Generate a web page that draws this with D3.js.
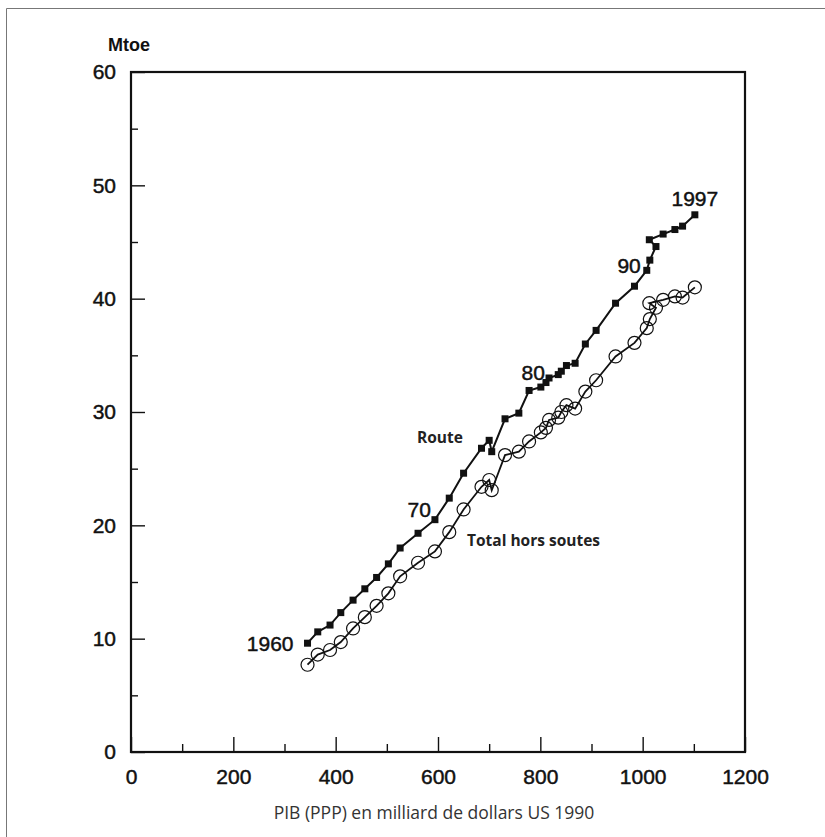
<!DOCTYPE html>
<html>
<head>
<meta charset="utf-8">
<script src="https://cdn.jsdelivr.net/npm/d3@7"></script>
<style>
  body { margin: 0; background: #fff; }
  svg { display: block; }
  .tick text, .yr { font-family: "Liberation Sans", Arial, sans-serif; fill: #111; stroke: #111; stroke-width: 0.45px; }
</style>
</head>
<body>
<script>
// GDP (PPP, bn 1990 USD), one value per year 1960..1997
var gdp = [345, 365, 389, 410, 434, 457, 480, 503, 526, 561, 594,
           622, 650, 685, 700, 705, 731, 758, 778, 801, 811, 817,
           835, 841, 851, 868, 888, 909, 947, 984, 1008,
           1014, 1026, 1013, 1040, 1063, 1078, 1102];

// Mtoe, road transport
var route = [9.6, 10.6, 11.2, 12.3, 13.4, 14.4, 15.4, 16.6, 18.0, 19.3, 20.5,
             22.4, 24.6, 26.8, 27.5, 26.5, 29.4, 29.9, 31.9, 32.2, 32.6, 33.0,
             33.3, 33.6, 34.1, 34.3, 36.0, 37.2, 39.6, 41.1, 42.5,
             43.4, 44.6, 45.2, 45.7, 46.1, 46.4, 47.4];

// Mtoe, total excluding bunkers
var total = [7.7, 8.6, 9.0, 9.7, 10.9, 11.9, 12.9, 14.0, 15.5, 16.7, 17.7,
             19.4, 21.4, 23.4, 24.0, 23.1, 26.2, 26.5, 27.4, 28.2, 28.6, 29.3,
             29.5, 30.0, 30.6, 30.3, 31.8, 32.8, 34.9, 36.1, 37.4,
             38.2, 39.2, 39.6, 39.9, 40.2, 40.1, 41.0];

var xTicks = [0, 200, 400, 600, 800, 1000, 1200];
var xMinor = [100, 300, 500, 700, 900, 1100];
var yTicks = [0, 10, 20, 30, 40, 50, 60];
var yMinor = [5, 15, 25, 35, 45, 55];

// year labels: index into the series and its text
var yearLabels = [
  {i: 0, text: "1960"},
  {i: 10, text: "70"},
  {i: 20, text: "80"},
  {i: 30, text: "90"},
  {i: 37, text: "1997"}
];

var W = 825, H = 837;
var margin = {top: 72, left: 131, right: 80, bottom: 85};
var width = W - margin.left - margin.right,
    height = H - margin.top - margin.bottom;

var svg = d3.select("body").append("svg")
    .attr("width", W)
    .attr("height", H);

// outer frame (left + top)
svg.append("path")
    .attr("d", "M6.5," + H + "V8.5H" + W)
    .attr("fill", "none")
    .attr("stroke", "#777")
    .attr("stroke-width", 1);

var g = svg.append("g")
    .attr("transform", "translate(" + margin.left + "," + margin.top + ")");

var x = d3.scaleLinear().domain([0, 1200]).range([0, width]);
var y = d3.scaleLinear().domain([0, 60]).range([height, 0]);

// x axis - ticks pointing inward
var xAx = g.append("g")
    .attr("transform", "translate(0," + height + ")")
    .call(d3.axisBottom(x).tickValues(xTicks).tickSize(-15).tickPadding(17).tickFormat(d3.format("d")));
xAx.select(".domain").remove();
xAx.selectAll("line").attr("stroke", "#111").attr("stroke-width", 1.4);
xAx.selectAll("text").attr("font-size", 21);

var xAxMin = g.append("g")
    .attr("transform", "translate(0," + height + ")")
    .call(d3.axisBottom(x).tickValues(xMinor).tickSize(-8).tickFormat(""));
xAxMin.select(".domain").remove();
xAxMin.selectAll("line").attr("stroke", "#111").attr("stroke-width", 1.4);

// y axis
var yAx = g.append("g")
    .call(d3.axisLeft(y).tickValues(yTicks).tickSize(-14).tickPadding(15).tickFormat(d3.format("d")));
yAx.select(".domain").remove();
yAx.selectAll("line").attr("stroke", "#111").attr("stroke-width", 1.4);
yAx.selectAll("text").attr("font-size", 21);

var yAxMin = g.append("g")
    .call(d3.axisLeft(y).tickValues(yMinor).tickSize(-7).tickFormat(""));
yAxMin.select(".domain").remove();
yAxMin.selectAll("line").attr("stroke", "#111").attr("stroke-width", 1.4);

// plot frame
g.append("rect")
    .attr("width", width)
    .attr("height", height)
    .attr("fill", "none")
    .attr("stroke", "#111")
    .attr("stroke-width", 2.2);

var line = d3.line()
    .x(function (d, i) { return x(gdp[i]); })
    .y(function (d) { return y(d); });

// Total hors soutes
g.append("path")
    .datum(total)
    .attr("d", line)
    .attr("fill", "none")
    .attr("stroke", "#111")
    .attr("stroke-width", 1.8);

g.selectAll(".circ")
    .data(total)
    .enter().append("circle")
    .attr("class", "circ")
    .attr("cx", function (d, i) { return x(gdp[i]); })
    .attr("cy", function (d) { return y(d); })
    .attr("r", 6.5)
    .attr("fill", "none")
    .attr("stroke", "#111")
    .attr("stroke-width", 1.2);

// Route
g.append("path")
    .datum(route)
    .attr("d", line)
    .attr("fill", "none")
    .attr("stroke", "#111")
    .attr("stroke-width", 2);

g.selectAll(".sq")
    .data(route)
    .enter().append("rect")
    .attr("class", "sq")
    .attr("x", function (d, i) { return x(gdp[i]) - 3.5; })
    .attr("y", function (d) { return y(d) - 3.5; })
    .attr("width", 7)
    .attr("height", 7)
    .attr("fill", "#111");

// year labels next to Route points
var offs = {"1960": [-14, 8, "end"], "70": [-4, -3, "end"], "80": [-1, -3, "end"],
            "90": [-6, 3, "end"], "1997": [0, -9, "middle"]};
g.selectAll(".yr")
    .data(yearLabels)
    .enter().append("text")
    .attr("class", "yr")
    .attr("x", function (d) { return x(gdp[d.i]) + offs[d.text][0]; })
    .attr("y", function (d) { return y(route[d.i]) + offs[d.text][1]; })
    .attr("text-anchor", function (d) { return offs[d.text][2]; })
    .attr("font-size", 21)
    .text(function (d) { return d.text; });

// series names
g.append("text")
    .attr("x", 417 - margin.left)
    .attr("y", 443 - margin.top)
    .attr("font-family", "Open Sans, sans-serif")
    .attr("font-weight", "bold")
    .attr("font-size", 15.5)
    .attr("fill", "#222")
    .text("Route");

g.append("text")
    .attr("x", 467 - margin.left)
    .attr("y", 546 - margin.top)
    .attr("font-family", "Open Sans, sans-serif")
    .attr("font-weight", "bold")
    .attr("font-size", 15.5)
    .attr("fill", "#222")
    .text("Total hors soutes");

// unit label
svg.append("text")
    .attr("x", 108)
    .attr("y", 51)
    .attr("font-family", "Liberation Sans, Arial, sans-serif")
    .attr("font-weight", "bold")
    .attr("font-size", 18)
    .attr("fill", "#111")
    .text("Mtoe");

// x axis title
svg.append("text")
    .attr("x", 434)
    .attr("y", 819)
    .attr("text-anchor", "middle")
    .attr("font-family", "Open Sans, sans-serif")
    .attr("font-size", 17.5)
    .attr("fill", "#333")
    .text("PIB (PPP) en milliard de dollars US 1990");
</script>
</body>
</html>
